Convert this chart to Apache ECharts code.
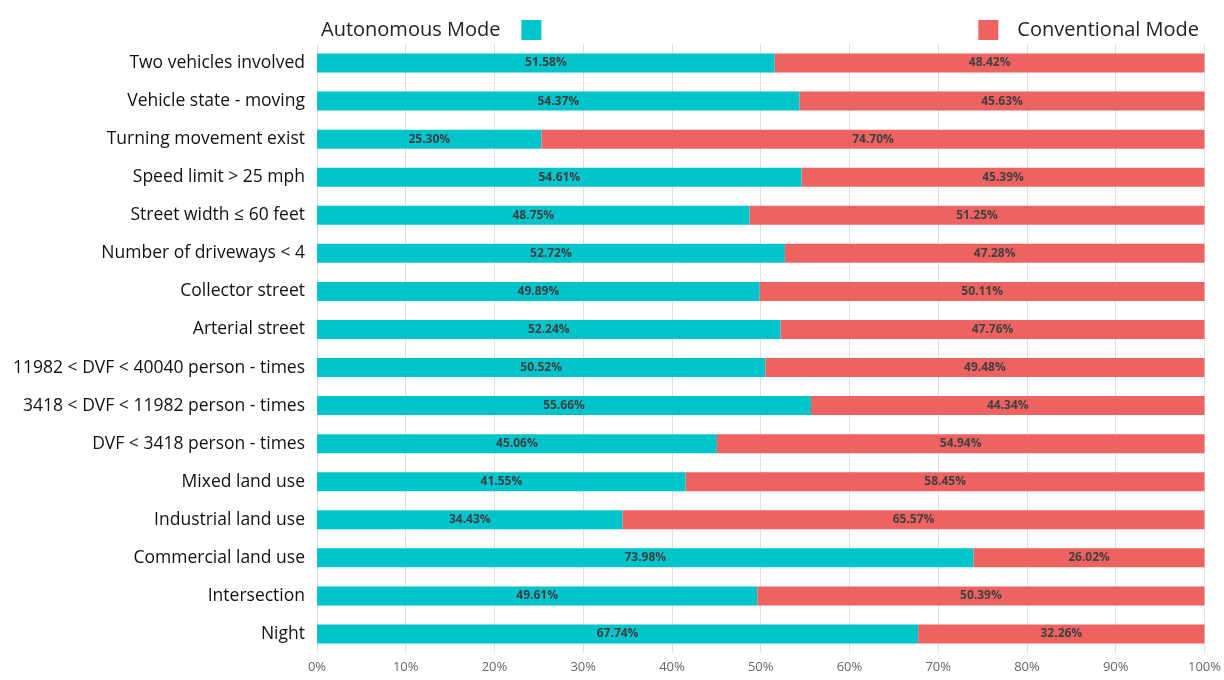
<!DOCTYPE html>
<html>
<head>
<meta charset="utf-8">
<script src="https://cdn.jsdelivr.net/npm/echarts@6/dist/echarts.min.js"></script>
<style>
    html, body { margin: 0; padding: 0; background: #fff; }
    #chart { width: 1224px; height: 680px; }
</style>
</head>
<body>
<div id="chart"></div>
<script>
    // categories from bottom to top (yAxis category order)
    const categories = [
        'Night',
        'Intersection',
        'Commercial land use',
        'Industrial land use',
        'Mixed land use',
        'DVF < 3418 person - times',
        '3418 < DVF < 11982 person - times',
        '11982 < DVF < 40040 person - times',
        'Arterial street',
        'Collector street',
        'Number of driveways < 4',
        'Street width ≤ 60 feet',
        'Speed limit > 25 mph',
        'Turning movement exist',
        'Vehicle state - moving',
        'Two vehicles involved'
    ];
    const autonomous = [67.74, 49.61, 73.98, 34.43, 41.55, 45.06, 55.66, 50.52, 52.24, 49.89, 52.72, 48.75, 54.61, 25.30, 54.37, 51.58];
    const conventional = [32.26, 50.39, 26.02, 65.57, 58.45, 54.94, 44.34, 49.48, 47.76, 50.11, 47.28, 51.25, 45.39, 74.70, 45.63, 48.42];

    const font = 'Open Sans, Lato, sans-serif';
    const chart = echarts.init(document.getElementById('chart'));

    const barLabel = {
        show: true,
        position: 'inside',
        color: '#404040',
        fontWeight: 'bold',
        fontSize: 12,
        fontFamily: font,
        formatter: p => p.value.toFixed(2) + '%'
    };

    chart.setOption({
        animation: false,
        legend: [
            {
                data: ['Autonomous Mode'],
                left: 316,
                top: 15,
                align: 'right',
                itemWidth: 20,
                itemHeight: 20,
                icon: 'rect',
                textStyle: { fontSize: 20, color: '#222', fontFamily: font, padding: [0, 16, 0, 0] }
            },
            {
                data: ['Conventional Mode'],
                right: 20,
                top: 15,
                itemWidth: 20,
                itemHeight: 20,
                icon: 'rect',
                textStyle: { fontSize: 20, color: '#222', fontFamily: font, padding: [0, 0, 0, 14] }
            }
        ],
        grid: {
            left: 317,
            right: 19,
            top: 44,
            bottom: 27,
            containLabel: false
        },
        xAxis: {
            type: 'value',
            min: 0,
            max: 100,
            interval: 10,
            axisLine: { show: false },
            axisTick: { show: false },
            splitLine: { lineStyle: { color: '#e0e0e0' } },
            axisLabel: {
                formatter: '{value}%',
                color: '#666',
                fontSize: 13,
                fontFamily: font,
                margin: 8
            }
        },
        yAxis: {
            type: 'category',
            data: categories,
            axisLine: { show: false },
            axisTick: { show: false },
            axisLabel: {
                color: '#111',
                fontSize: 17.5,
                fontFamily: font,
                margin: 12,
                padding: [5, 0, 0, 0]
            }
        },
        series: [
            {
                name: 'Autonomous Mode',
                type: 'bar',
                stack: 'total',
                barWidth: 19,
                itemStyle: { color: '#00C4CC' },
                label: barLabel,
                data: autonomous
            },
            {
                name: 'Conventional Mode',
                type: 'bar',
                stack: 'total',
                barWidth: 19,
                itemStyle: { color: '#EF6262' },
                label: barLabel,
                data: conventional
            }
        ]
    });
</script>
</body>
</html>
